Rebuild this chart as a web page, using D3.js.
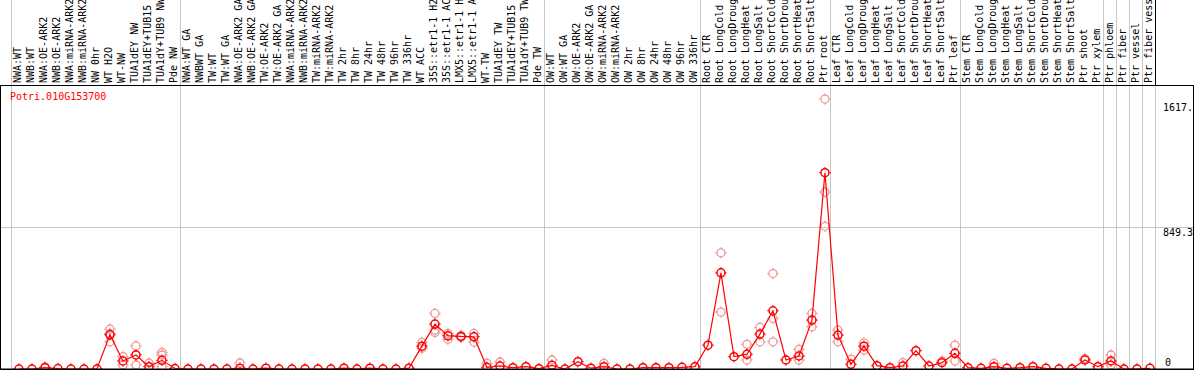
<!DOCTYPE html>
<html>
<head>
<meta charset="utf-8">
<script src="https://cdn.jsdelivr.net/npm/d3@7"></script>
<style>
  body { margin: 0; background: #fff; }
  text { font-family: "DejaVu Sans Mono", monospace; font-size: 10px; }
</style>
</head>
<body>
<div id="chart"></div>
<script>

// ==============================
// Data
// ==============================
var geneName = "Potri.010G153700";

var sampleLabels = [
  "NWA:WT", "NWB:WT", "NWA:OE-ARK2", "NWB:OE-ARK2", "NWA:miRNA-ARK2", "NWB:miRNA-ARK2",
  "NW 0hr", "WT H2O", "WT-NW", "TUA1dEY NW", "TUA1dEY+TUB15", "TUA1dY+TUB9 NW", "Pde NW",
  "NWA:WT GA", "NWBWT GA", "TW:WT", "TW:WT GA", "NWA:OE-ARK2 GA", "NWB:OE-ARK2 GA",
  "TW:OE-ARK2", "TW:OE-ARK2 GA", "NWA:miRNA-ARK2", "NWB:miRNA-ARK2", "TW:miRNA-ARK2",
  "TW:miRNA-ARK2", "TW 2hr", "TW 8hr", "TW 24hr", "TW 48hr", "TW 96hr", "TW 336hr",
  "WT ACC", "35S::etr1-1 H2", "35S::etr1-1 AC", "LMX5::etr1-1 H", "LMX5::etr1-1 A",
  "WT-TW", "TUA1dEY TW", "TUA1dEY+TUB15", "TUA1dY+TUB9 TW", "Pde TW",
  "OW:WT", "OW:WT GA", "OW:OE-ARK2", "OW:OE-ARK2 GA", "OW:miRNA-ARK2", "OW:miRNA-ARK2",
  "OW 2hr", "OW 8hr", "OW 24hr", "OW 48hr", "OW 96hr", "OW 336hr",
  "Root CTR", "Root LongCold", "Root LongDroug", "Root LongHeat", "Root LongSalt",
  "Root ShortCold", "Root ShortDrou", "Root ShortHeat", "Root ShortSalt", "Ptr root",
  "Leaf CTR", "Leaf LongCold", "Leaf LongDroug", "Leaf LongHeat", "Leaf LongSalt",
  "Leaf ShortCold", "Leaf ShortDrou", "Leaf ShortHeat", "Leaf ShortSalt", "Ptr leaf",
  "Stem CTR", "Stem LongCold", "Stem LongDroug", "Stem LongHeat", "Stem LongSalt",
  "Stem ShortCold", "Stem ShortDrou", "Stem ShortHeat", "Stem ShortSalt", "Ptr shoot",
  "Ptr xylem", "Ptr phloem", "Ptr fiber", "Ptr vessel", "Ptr fiber vess"
];

// index of the first sample of each experiment group (plus the end)
var groupStarts = [0, 13, 41, 53, 63, 73, 84, 85, 86, 87, 88];

// mean expression per sample
var meanValues = [
  0, 0, 8, 3, 0, 0, 0, 205, 48, 84, 14, 52, 3,
  0, 0, 0, 0, 5, 0, 5, 0, 0, 0, 0, 0, 5, 0, 5, 0, 0, 5,
  137, 269, 199, 195, 193, 10, 18, 8, 14, 2,
  22, 0, 44, 5, 14, 0, 0, 8, 8, 8, 10, 14,
  143, 576, 74, 88, 209, 349, 54, 78, 293, 1176,
  203, 28, 137, 20, 8, 18, 110, 18, 38, 94,
  8, 4, 14, 4, 8, 14, 4, 0, 0, 54, 14,
  48, 0, 0, 4
];

// visible replicate values (sample index -> values)
var replicateValues = {
  2: [12], 7: [239, 163, 213], 8: [74, 24], 9: [138, 24], 10: [36], 11: [100, 84, 14],
  17: [36], 31: [160, 124], 32: [333, 219, 233], 33: [213, 178], 34: [200, 190],
  35: [213, 160], 36: [34], 37: [42], 41: [54], 45: [34],
  54: [696, 341], 56: [148, 54], 57: [249, 163], 58: [572, 303, 163], 60: [118, 54],
  61: [333, 253], 62: [1617.4, 1060, 855],
  63: [233, 163], 64: [58], 65: [157, 114], 68: [38], 71: [48], 72: [143, 48],
  75: [34], 82: [62], 84: [84, 24]
};

var yMax = 1698.6;
var yTickValues = [0, 849.3, 1617.4];
var yTickLabels = ["0", "849.3", "1617."];

// ==============================
// Setup SVG Area
// ==============================
var svgWidth = 1194;
var svgHeight = 370;

var plotTop = 85.5;
var plotBottom = 369;
var plotLeft = 10.5;
var plotRight = 1154.5;

var svg = d3.select("#chart")
  .append("svg")
  .attr("width", svgWidth)
  .attr("height", svgHeight);

// Create scale functions
var xScale = d3.scaleBand()
  .domain(d3.range(sampleLabels.length))
  .range([plotLeft, plotRight])
  .paddingInner(0)
  .paddingOuter(0);

var yScale = d3.scaleLinear()
  .domain([0, yMax])
  .range([plotBottom, plotTop]);

var step = xScale.step();
var px = i => xScale(i) + step * 0.65;

// ==============================
// Grid lines
// ==============================
var grid = svg.append("g");

grid.selectAll("line.vgrid")
  .data(groupStarts)
  .enter().append("line")
  .attr("x1", d => Math.round(plotLeft + d * step) + 0.5)
  .attr("x2", d => Math.round(plotLeft + d * step) + 0.5)
  .attr("y1", 0)
  .attr("y2", plotBottom)
  .attr("stroke", "#c6c6c6")
  .attr("stroke-width", 1);

// black edge of the label panel
svg.append("line")
  .attr("x1", Math.round(plotRight) + 0.5)
  .attr("x2", Math.round(plotRight) + 0.5)
  .attr("y1", 0)
  .attr("y2", plotTop)
  .attr("stroke", "#000");

grid.append("line")
  .attr("x1", 0)
  .attr("x2", svgWidth)
  .attr("y1", Math.round(yScale(yMax / 2)) + 0.5)
  .attr("y2", Math.round(yScale(yMax / 2)) + 0.5)
  .attr("stroke", "#c6c6c6");

// ==============================
// Sample labels (rotated)
// ==============================
svg.append("g").selectAll("text")
  .data(sampleLabels)
  .enter().append("text")
  .attr("transform", (d, i) => `translate(${xScale(i) + 10.5}, 83) rotate(-90)`)
  .attr("fill", "#000")
  .text(d => d);

// ==============================
// Marks
// ==============================
function ringWithTicks(sel, color, width) {
  sel.append("circle")
    .attr("r", 4)
    .attr("fill", "none")
    .attr("stroke", color)
    .attr("stroke-width", width);
  sel.append("path")
    .attr("d", "M0,-4V-5.8M0,4V5.8M-4,0H-5.8M4,0H5.8")
    .attr("stroke", color)
    .attr("stroke-width", 1);
}

// replicate points
var repData = [];
Object.keys(replicateValues).forEach(function(k) {
  replicateValues[k].forEach(function(v) {
    repData.push({ i: +k, v: v });
  });
});

var repGroup = svg.append("g").selectAll("g")
  .data(repData)
  .enter().append("g")
  .attr("transform", d => `translate(${px(d.i)}, ${yScale(d.v)})`);
ringWithTicks(repGroup, "#ee9797", 1.3);

// mean line
var line = d3.line()
  .x((d, i) => px(i))
  .y(d => yScale(d));

svg.append("path")
  .datum(meanValues)
  .attr("d", line)
  .attr("fill", "none")
  .attr("stroke", "#ff0000")
  .attr("stroke-width", 1.2);

var meanGroup = svg.append("g").selectAll("g")
  .data(meanValues)
  .enter().append("g")
  .attr("transform", (d, i) => `translate(${px(i)}, ${yScale(d)})`);
ringWithTicks(meanGroup, "#ff0000", 1.5);

// ==============================
// Frame
// ==============================
svg.append("line").attr("x1", 0).attr("x2", svgWidth).attr("y1", 85.5).attr("y2", 85.5).attr("stroke", "#000");
svg.append("line").attr("x1", 0).attr("x2", svgWidth).attr("y1", 369.5).attr("y2", 369.5).attr("stroke", "#000").attr("stroke-width", 2);
svg.append("line").attr("x1", 0.5).attr("x2", 0.5).attr("y1", 85).attr("y2", svgHeight).attr("stroke", "#000");
svg.append("line").attr("x1", 1193.5).attr("x2", 1193.5).attr("y1", 85).attr("y2", svgHeight).attr("stroke", "#000");

// ==============================
// Value labels and title
// ==============================
svg.append("g").selectAll("text")
  .data(yTickValues)
  .enter().append("text")
  .attr("x", (d, i) => i === 0 ? 1165 : 1163)
  .attr("y", (d, i) => Math.min(yScale(d) + (i === 2 ? 12 : 9), 366))
  .attr("fill", "#000")
  .text((d, i) => yTickLabels[i]);

svg.append("text")
  .attr("x", 10)
  .attr("y", 100)
  .attr("fill", "#ff0000")
  .text(geneName);

</script>
</body>
</html>
